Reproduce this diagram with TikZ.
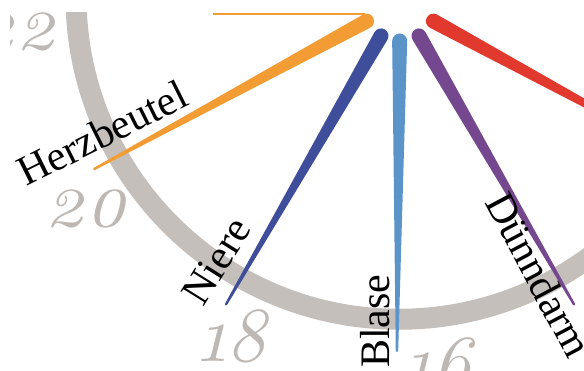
\documentclass[tikz,border=0pt]{standalone}
\usepackage{fontspec}
\newfontfamily\hourfont{Latin Modern Roman}[Numbers=OldStyle]
\newfontfamily\organfont{Liberation Serif}
\definecolor{ringgray}{RGB}{196,191,187}
\definecolor{hourgray}{RGB}{190,184,180}
\definecolor{herzorange}{RGB}{243,156,51}
\definecolor{nierenblau}{RGB}{63,78,154}
\definecolor{blasenblau}{RGB}{91,148,201}
\definecolor{darmlila}{RGB}{116,71,143}
\definecolor{rot}{RGB}{226,57,46}

\begin{document}
\begin{tikzpicture}[
    x=1pt, y=1pt,
    organ/.style={font=\organfont\fontsize{42}{42}\selectfont, inner sep=0pt, anchor=base west},
    hour/.style={font=\hourfont\itshape\fontsize{78}{78}\selectfont, text=hourgray, inner sep=0pt},
    organhand/.pic={
        \path[pic actions] (38,7.5) -- (348,1.2)
            arc[start angle=90, end angle=-90, radius=1.2] -- (38,-7.5)
            arc[start angle=-90, end angle=-270, radius=7.5] -- cycle;
    }
]

\useasboundingbox (0,0) rectangle (584,-371);

\begin{scope}
\clip (10,-13) rectangle (584,-371);

% Ring and hub
\draw[ringgray, line width=21] (399,3.75) circle[radius=323];
\coordinate (hub) at (400,-3);

% Hands
\draw[herzorange, line width=2.4] (213,-14) -- (365,-14);
\pic[rotate=208.5, fill=herzorange] at (hub) {organhand};
\pic[rotate=240, fill=nierenblau] at (hub) {organhand};
\pic[rotate=269.5, fill=blasenblau] at (hub) {organhand};
\pic[rotate=300, fill=darmlila] at (hub) {organhand};
\pic[rotate=331.5, fill=rot] at (hub) {organhand};

% Hours
\node[hour, anchor=base east] (h22) at (58,-50) {22};
\node[hour, anchor=base west] (h20) at (45,-227) {20};
\node[hour, anchor=base west] (h18) at (198,-362) {18};
\node[hour, anchor=base west] (h16) at (403,-390) {16};

% Organs
\node[organ, rotate=26.5] (herz) at (26,-187) {Herzbeutel};
\node[organ, rotate=58] (niere) at (203,-308) {Niere};
\node[organ, rotate=90] (blase) at (389,-368) {Blase};
\node[organ, rotate=-62] (darm) at (484,-202) {Dünndarm};
\end{scope}

\end{tikzpicture}
\end{document}
